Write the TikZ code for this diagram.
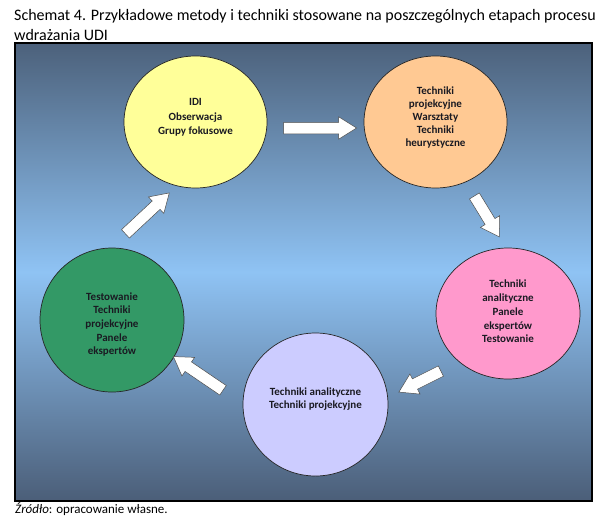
\documentclass[tikz,border=0pt]{standalone}
\usepackage{fontspec}
\setmainfont{Carlito}
\usetikzlibrary{shapes.geometric,shapes.arrows}
\definecolor{bgtop}{HTML}{4C617B}
\definecolor{bgmid}{HTML}{8FC3F4}
\definecolor{bgbot}{HTML}{4B5E78}
\definecolor{cyellow}{HTML}{FFFF99}
\definecolor{corange}{HTML}{FFC993}
\definecolor{cpink}{HTML}{FF99CC}
\definecolor{cgreen}{HTML}{339966}
\definecolor{clav}{HTML}{CCCCFF}
\definecolor{txtc}{HTML}{1A1A22}
\tikzset{
  circ/.style={ellipse, draw=black!85, line width=0.7pt, inner sep=0pt},
  txt/.style={align=center, font=\bfseries\fontsize{11}{13.7}\selectfont, text=txtc, inner sep=0pt},
  blockarrow/.style={single arrow, draw=gray!60!black, line width=0.5pt, fill=white,
    inner xsep=0pt, inner ysep=5.5pt, single arrow head extend=5.5pt,
    single arrow tip angle=64},
  caption/.style={anchor=base west, inner sep=0pt, font=\fontsize{16}{18}\selectfont}
}
\begin{document}
\begin{tikzpicture}[x=1pt,y=-1pt]
\useasboundingbox (0,0) rectangle (602,517);
% title
\node[caption] (title1) at (14,20) {Schemat 4. Przykładowe metody i techniki stosowane na poszczególnych etapach procesu};
\node[caption] (title2) at (14,40) {wdrażania UDI};
% background frame
\shade[top color=bgtop, bottom color=bgbot, middle color=bgmid] (15,43) rectangle (592,501);
\draw[line width=1.2pt] (15,43) rectangle (592,501);
% stages
\node[circ, fill=cyellow, minimum width=143pt, minimum height=132pt] (idi) at (195.5,122) {};
\node[circ, fill=corange, minimum width=143pt, minimum height=132pt] (proj) at (435.5,122) {};
\node[circ, fill=cpink, minimum width=144pt, minimum height=131pt] (anal) at (508,313.5) {};
\node[circ, fill=clav, minimum width=145pt, minimum height=143pt] (lav) at (315.5,404.5) {};
\node[circ, fill=cgreen, minimum width=144pt, minimum height=144pt] (test) at (112,320) {};
% texts
\node[txt, font=\bfseries\fontsize{11}{14.5}\selectfont] (idit) at (195.5,117.5) {IDI\\Obserwacja\\Grupy fokusowe};
\node[txt, font=\bfseries\fontsize{11}{12.9}\selectfont] (projt) at (435.5,117.5) {Techniki\\projekcyjne\\Warsztaty\\Techniki\\heurystyczne};
\node[txt] (analt) at (508,311.5) {Techniki\\analityczne\\Panele\\ekspertów\\Testowanie};
\node[txt] (lavt) at (315.5,399) {Techniki analityczne\\Techniki projekcyjne};
\node[txt] (testt) at (112,324.5) {Testowanie\\Techniki\\projekcyjne\\Panele\\ekspertów};
% arrows
\node[blockarrow, minimum height=73pt, rotate=0] (a1) at (315.5,128) {};
\node[blockarrow, minimum height=48pt, rotate=-58.6] (a2) at (484.5,212.5) {};
\node[blockarrow, minimum height=47pt, rotate=-153.4] (a3) at (424,379.5) {};
\node[blockarrow, minimum height=60pt, rotate=145.8] (a4) at (202,376) {};
\node[blockarrow, minimum height=60pt, rotate=43] (a5) at (144,216.5) {};
% footer
\node[anchor=base west, inner sep=0pt, font=\fontsize{13}{14}\selectfont] (src) at (15,513) {\textit{Źródło}: opracowanie własne.};
\end{tikzpicture}
\end{document}
